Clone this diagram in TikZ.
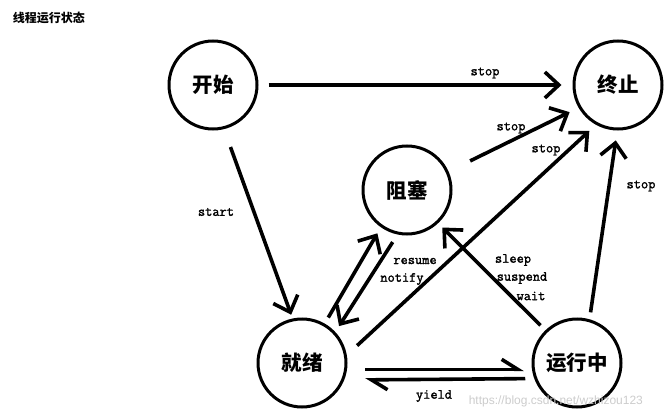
\documentclass[tikz,border=0pt]{standalone}
\usepackage{fontspec}
\newfontfamily\cjk{Noto Sans CJK SC}
\newfontfamily\lblfont[FakeBold=1.6]{Latin Modern Mono}
\newfontfamily\wmfont{Liberation Sans}
\usepackage{tikz}
\usetikzlibrary{arrows.meta}

\begin{document}
\begin{tikzpicture}
[x=1pt, y=-1pt, line width=3.6pt, >={Straight Barb[length=14pt,width=26pt]},
  state/.style = { draw, circle, line width=3pt, minimum size=88pt, inner sep=0pt,
                   font=\cjk\bfseries\fontsize{20.5}{20.5}\selectfont },
  lbl/.style   = { inner sep=0pt, font=\lblfont\fontsize{14}{14}\selectfont },
  half/.style  = { -{Straight Barb[harpoon,length=16pt,width=20pt]} }
]

% Page:
\useasboundingbox (0,0) rectangle (672,409);

% Title:
\node[anchor=west, inner sep=0pt, font=\cjk\bfseries\fontsize{12}{12}\selectfont] (title) at (11,18) {线程运行状态};

% States:
\node[state] (start)   at (213,85)  {开始};
\node[state] (stop)    at (618,85)  {终止};
\node[state] (blocked) at (407,190) {阻塞};
\node[state] (ready)   at (302,363) {就绪};
\node[state] (running) at (577,363) {运行中};

% Transitions to stop:
\draw[->, shorten <=10pt, shorten >=11pt] (start) -- (stop);
\draw[->, shorten <=24pt, shorten >=10pt] (blocked.24) -- (stop.210);
\draw[->, shorten <=14pt, shorten >=9pt]  (ready.10) -- (stop.241);
\draw[->, shorten <=7pt, shorten >=10pt]  (running.74) -- (stop.269);
\node[lbl] (lstopa) at (485,73)  {stop};
\node[lbl] (lstopb) at (511,128) {stop};
\node[lbl] (lstopc) at (546,150) {stop};
\node[lbl] (lstopd) at (641,186) {stop};

% start:
\draw[->, shorten <=19pt, shorten >=4pt] (start.284) -- (ready.102);
\node[lbl] (lstart) at (216,212) {start};

% ready <-> blocked:
\draw[->, shorten <=7pt, shorten >=7pt] (ready.60) -- (blocked.235);
\draw[->, shorten <=9pt, shorten >=7pt] (blocked.258) -- (ready.43);
\node[lbl] (lresume) at (415,261) {resume};
\node[lbl] (lnotify) at (402,279) {notify};

% running -> blocked:
\draw[->, shorten <=7pt, shorten >=6pt] (running.134) -- (blocked.313);
\node[lbl] (lsleep)   at (513,260) {sleep};
\node[lbl] (lsuspend) at (522,278) {suspend};
\node[lbl] (lwait)    at (531,296) {wait};

% ready <-> running:
\draw[half, shorten <=18pt, shorten >=8pt] (ready.352) -- (running.188);
\draw[half, shorten <=9pt, shorten >=21pt] (running.200) -- (ready.338);
\node[lbl] (lyield) at (434,396) {yield};

% Watermark:
\node[anchor=west, inner sep=0pt, text=black!20, font=\wmfont\fontsize{12}{12}\selectfont] (mark) at (467,401) {https://blog.csdn.net/wzhizou123};
\end{tikzpicture}
\end{document}
